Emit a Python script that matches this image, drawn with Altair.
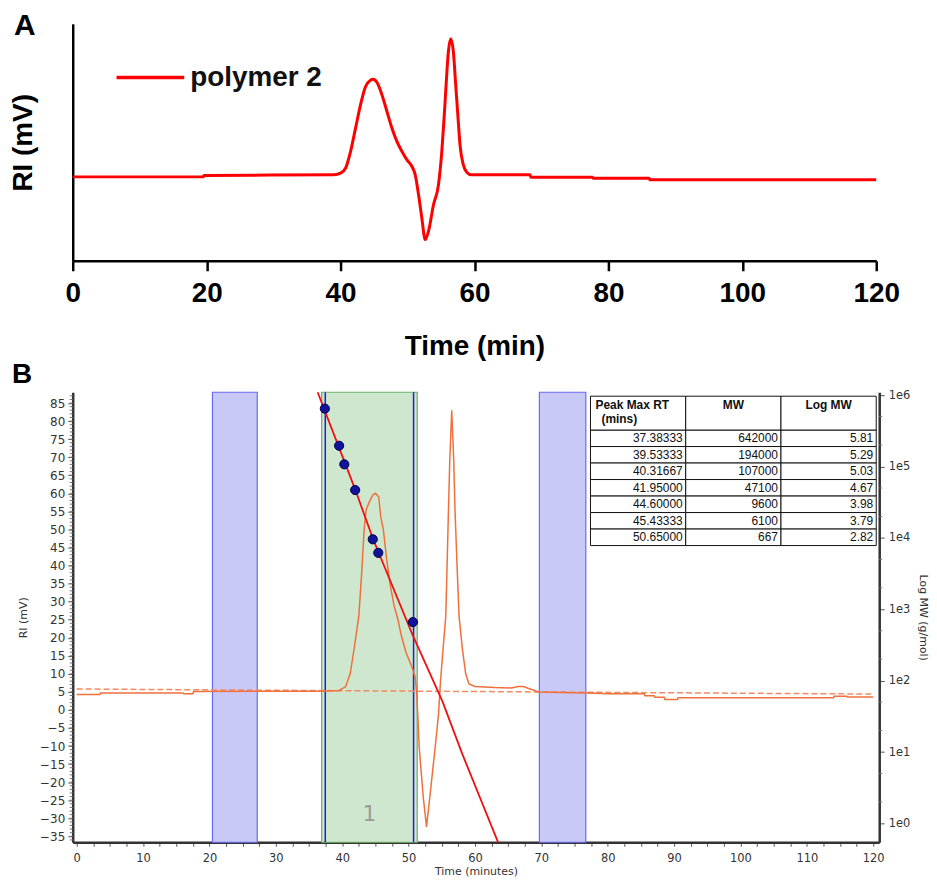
import altair as alt
import pandas as pd

FA = "Liberation Sans"
FB = "DejaVu Sans"

# ---------------- Panel A data (RI trace, mV) ----------------
a_time = [0, 19.5, 19.6, 39.0, 40.0, 40.74, 41.49, 42.23, 42.97, 43.72, 44.46, 44.86, 45.45,
          46.2, 46.94, 47.69, 48.43, 49.17, 49.92, 50.66, 51.15, 51.65, 52.14, 52.64, 53.13,
          53.88, 54.62, 55.12, 55.46, 55.76, 56.1, 56.46, 56.85, 57.2, 57.55, 57.84, 58.34,
          58.84, 59.58, 68.3, 68.4, 77.6, 77.7, 86.1, 86.2, 120]
a_ri = [5.17, 5.17, 5.95, 6.4, 7.24, 10.0, 19.4, 32.4, 45.5, 55.8, 59.5, 60.0, 58.2,
        51.1, 41.8, 32.4, 25.0, 19.4, 14.7, 11.0, 6.3, -4.9, -18.0, -30.1, -25.4,
        -10.5, 0.7, 19.4, 38.0, 56.7, 75.4, 82.8, 75.4, 56.7, 38.0, 23.1, 11.9,
        7.8, 6.3, 6.3, 5.0, 5.0, 4.44, 4.44, 3.49, 3.49]

# ---------------- Panel B data ----------------
b_time = [0, 3.5, 3.6, 16.0, 16.1, 17.5, 17.6, 37.0, 39.5, 40.5, 41.2, 41.8, 42.5, 42.9, 43.3,
          43.6, 44.1, 44.6, 45.0, 45.5, 45.8, 46.2, 46.7, 47.2, 47.8, 48.4, 48.9, 49.6, 50.6,
          51.0, 51.2, 51.4, 51.6, 52.2, 52.7, 53.3, 54.0, 54.5, 54.8, 55.2, 55.6, 55.8, 56.0,
          56.2, 56.5, 56.8, 57.0, 57.3, 57.6, 58.1, 58.6, 59.1, 60.0, 63.0, 65.5, 66.5, 67.3,
          68.0, 69.6, 78.0, 80.0, 85.5, 85.6, 87.0, 87.1, 88.5, 88.6, 90.5, 90.6, 114.0,
          114.1, 116.0, 116.1, 120.0]
b_ri = [4.3, 4.3, 4.7, 4.7, 4.5, 4.5, 5.1, 5.2, 5.4, 6.4, 10.0, 17.0, 26.0, 37.0, 49.9,
        55.4, 57.7, 59.5, 60.0, 59.0, 53.6, 49.9, 41.7, 35.0, 29.0, 25.0, 20.6, 16.0, 11.4,
        9.0, 5.0, -2.0, -10.4, -24.0, -32.4, -22.4, -10.4, -1.4, 7.8, 17.0, 26.0, 40.0, 55.0,
        69.0, 83.0, 69.0, 55.0, 40.0, 26.0, 17.0, 10.0, 7.2, 6.5, 6.2, 6.1, 6.5, 6.5,
        6.0, 5.0, 4.6, 4.5, 4.5, 3.9, 3.9, 3.5, 3.5, 2.9, 2.9, 3.4, 3.4,
        3.8, 3.8, 3.6, 3.6]

base_time = [0, 120]
base_ri = [5.8, 4.4]

excl_start = [20.45, 69.7]
excl_end = [27.2, 76.7]
slice_start = [36.9]
slice_end = [51.3]
limit_times = [37.45, 50.75]

cal_time = [36.3, 41.95, 44.66, 50.6, 55.1, 58.1, 63.5]
cal_logmw = [6.04, 4.68, 3.98, 2.64, 1.71, 0.97, -0.27]

peak_rt = [37.38333, 39.53333, 40.31667, 41.95, 44.6, 45.43333, 50.65]
peak_mw = [642000, 194000, 107000, 47100, 9600, 6100, 667]
peak_logmw = [5.81, 5.29, 5.03, 4.67, 3.98, 3.79, 2.82]

table_headers = ["Peak Max RT", "(mins)", "MW", "Log MW"]

x_ticks_b = [v / 2 for v in range(0, 241, 5)]
y_ticks_b = list(range(-35, 86, 5))
y_minor_b = list(range(-36, 88))
log_ticks = [0, 1, 2, 3, 4, 5, 6]
log_minor = [d + m for d in range(0, 6) for m in (0.30103, 0.69897)]

# ---------------- Panel A ----------------
dfA = pd.DataFrame({"t": a_time, "ri": a_ri, "series": "polymer 2"})

axA_x = alt.Axis(title="Time (min)", values=[0, 20, 40, 60, 80, 100, 120], grid=False,
                 labelFont=FA, labelFontSize=28, labelFontWeight="bold", labelColor="black",
                 labelPadding=9, labelFlush=False, tickColor="black", tickWidth=2.5, tickSize=10,
                 domainColor="black", domainWidth=2.5, titleFont=FA, titleFontSize=28,
                 titleFontWeight="bold", titleColor="black", titlePadding=25)
axA_y = alt.Axis(title="RI (mV)", labels=False, ticks=False, grid=False, domainColor="black",
                 domainWidth=2.5, titleFont=FA, titleFontSize=28, titleFontWeight="bold",
                 titleColor="black", titlePadding=35)

chartA = alt.Chart(dfA).mark_line(strokeWidth=3, interpolate="monotone").encode(
    x=alt.X("t:Q", scale=alt.Scale(domain=[0, 120], nice=False), axis=axA_x),
    y=alt.Y("ri:Q", scale=alt.Scale(domain=[-42.0, 91.2], nice=False, zero=False), axis=axA_y),
    color=alt.Color("series:N", scale=alt.Scale(domain=["polymer 2"], range=["#ff0000"]),
                    legend=alt.Legend(title=None, orient="none", legendX=42, legendY=18,
                                      symbolType="stroke", symbolSize=4624, symbolStrokeWidth=3.5,
                                      labelFont=FA, labelFontSize=28, labelFontWeight="bold",
                                      labelColor="#111", labelOffset=4, padding=0)),
).properties(
    width=807, height=238,
    title=alt.TitleParams("A", anchor="start", frame="group", dx=-59, offset=-17,
                          fontSize=30, fontWeight="bold", font=FA, color="black"),
)

# ---------------- Panel B ----------------
dfTrace = pd.DataFrame({"t": b_time, "ri": b_ri})
dfBase = pd.DataFrame({"t": base_time, "ri": base_ri})
dfExcl = pd.DataFrame({"start": excl_start, "end": excl_end})
dfSlice = pd.DataFrame({"start": slice_start, "end": slice_end})
dfLim = pd.DataFrame({"t": limit_times})
dfCal = pd.DataFrame({"t": cal_time, "logmw": cal_logmw})
dfPk = pd.DataFrame({"t": peak_rt, "logmw": peak_logmw})
dfYMinor = pd.DataFrame({"v": y_minor_b})
dfLogMinor = pd.DataFrame({"v": log_minor})

W_B, H_B = 810, 452

xsB = alt.Scale(domain=[-0.6, 120.9], nice=False, zero=False)
ysB = alt.Scale(domain=[-36.65, 88.0], nice=False, zero=False)
lsB = alt.Scale(domain=[-0.264, 6.04], nice=False, zero=False)

common_b = dict(grid=False, labelFont=FB, labelColor="#333",
                tickColor="#555", domainColor="#333", domainWidth=2.5,
                titleFont=FB, titleFontSize=11, titleFontWeight="normal", titleColor="#333")

axB_x = alt.Axis(title="Time (minutes)", values=x_ticks_b,
                 labelExpr="datum.value % 10 === 0 ? datum.label : ''",
                 labelOverlap=False, labelFlush=False, labelPadding=6, tickSize=4,
                 labelFontSize=11.5, titlePadding=2, **common_b)
axB_y = alt.Axis(title="RI (mV)", values=y_ticks_b, labelOverlap=False, labelPadding=3,
                 labelFontSize=12, tickSize=5, titlePadding=11, **common_b)
axB_log = alt.Axis(title="Log MW (g/mol)", orient="right", values=log_ticks,
                   labelExpr="'1e' + datum.value", labelOverlap=False, labelPadding=4,
                   labelFontSize=11.5, tickSize=5, titlePadding=8, **common_b)

excl = alt.Chart(dfExcl).mark_rect(fill="#c9c9f7", stroke="#6a6af2", strokeWidth=1.2).encode(
    x=alt.X("start:Q", scale=xsB, axis=axB_x), x2="end:Q")
slc = alt.Chart(dfSlice).mark_rect(fill="#cfe7cf", stroke="#6cb06c", strokeWidth=1.2).encode(
    x=alt.X("start:Q", scale=xsB, axis=axB_x), x2="end:Q")
lims = alt.Chart(dfLim).mark_rule(color="#2020d0", strokeWidth=1.5).encode(
    x=alt.X("t:Q", scale=xsB, axis=axB_x))
base = alt.Chart(dfBase).mark_line(color="#f28a62", strokeWidth=1.5, strokeDash=[6, 3]).encode(
    x=alt.X("t:Q", scale=xsB, axis=axB_x), y=alt.Y("ri:Q", scale=ysB, axis=axB_y))
trace = alt.Chart(dfTrace).mark_line(color="#f0703c", strokeWidth=1.5).encode(
    x=alt.X("t:Q", scale=xsB, axis=axB_x), y=alt.Y("ri:Q", scale=ysB, axis=axB_y))
one = alt.Chart(dfSlice).mark_text(text="1", font=FB, fontSize=22, color="#9a9a9a").encode(
    x=alt.XDatum(44.1, scale=xsB, axis=axB_x), y=alt.YDatum(-28.8, scale=ysB, axis=axB_y))
yminor = alt.Chart(dfYMinor).mark_rule(color="#777", strokeWidth=1).encode(
    y=alt.Y("v:Q", scale=ysB, axis=axB_y), x=alt.value(-3), x2=alt.value(0))

mv_group = alt.layer(excl, slc, lims, base, trace, one, yminor)

cal = alt.Chart(dfCal).mark_line(color="#ee1111", strokeWidth=1.8).encode(
    x=alt.X("t:Q", scale=xsB, axis=None), y=alt.Y("logmw:Q", scale=lsB, axis=axB_log))
dots = alt.Chart(dfPk).mark_point(filled=True, shape="circle", size=85, color="#12129a",
                                  stroke="#00004a", strokeWidth=1, opacity=1).encode(
    x=alt.X("t:Q", scale=xsB, axis=None), y=alt.Y("logmw:Q", scale=lsB, axis=axB_log))
lminor = alt.Chart(dfLogMinor).mark_rule(color="#777", strokeWidth=1).encode(
    y=alt.Y("v:Q", scale=lsB, axis=axB_log), x=alt.value(W_B), x2=alt.value(W_B + 3))
log_group = alt.layer(cal, dots, lminor)

# table built from the peak arrays
HEADER_H = 2.05
cells = []
for i in range(len(peak_rt)):
    for j in range(3):
        cells.append({"c0": j, "c1": j + 1, "r0": HEADER_H + i, "r1": HEADER_H + i + 1})
for j in range(3):
    cells.append({"c0": j, "c1": j + 1, "r0": 0, "r1": HEADER_H})
dfCells = pd.DataFrame(cells)

body = []
for i in range(len(peak_rt)):
    vals = [f"{peak_rt[i]:.5f}", f"{peak_mw[i]}", f"{peak_logmw[i]:.2f}"]
    for j, s in enumerate(vals):
        body.append({"cx": j + 1, "cy": HEADER_H + i + 0.5, "txt": s})
dfBody = pd.DataFrame(body)
dfHead1 = pd.DataFrame({"cx": [0], "cy": [0.56], "txt": table_headers[:1]})
dfHead2 = pd.DataFrame({"cx": [0], "cy": [1.40], "txt": table_headers[1:2]})
dfHeadC = pd.DataFrame({"cx": [1.5, 2.5], "cy": [0.56, 0.56], "txt": table_headers[2:]})

tx = alt.Scale(domain=[0, 3], range=[520, 807])
ty = alt.Scale(domain=[0, HEADER_H + 7], range=[4, 154])

tcells = alt.Chart(dfCells).mark_rect(fill="white", stroke="#111", strokeWidth=1).encode(
    x=alt.X("c0:Q", scale=tx, axis=None), x2="c1:Q",
    y=alt.Y("r0:Q", scale=ty, axis=None), y2="r1:Q")
tbody = alt.Chart(dfBody).mark_text(align="right", baseline="middle", dx=-3, font=FA,
                                    fontSize=12, color="#111").encode(
    x=alt.X("cx:Q", scale=tx, axis=None), y=alt.Y("cy:Q", scale=ty, axis=None), text="txt:N")
thead1 = alt.Chart(dfHead1).mark_text(align="left", baseline="middle", dx=5, font=FA,
                                      fontSize=12, fontWeight="bold", color="#111").encode(
    x=alt.X("cx:Q", scale=tx, axis=None), y=alt.Y("cy:Q", scale=ty, axis=None), text="txt:N")
thead2 = alt.Chart(dfHead2).mark_text(align="left", baseline="middle", dx=11, font=FA,
                                      fontSize=12, fontWeight="bold", color="#111").encode(
    x=alt.X("cx:Q", scale=tx, axis=None), y=alt.Y("cy:Q", scale=ty, axis=None), text="txt:N")
thead3 = alt.Chart(dfHeadC).mark_text(align="center", baseline="middle", font=FA,
                                      fontSize=12, fontWeight="bold", color="#111").encode(
    x=alt.X("cx:Q", scale=tx, axis=None), y=alt.Y("cy:Q", scale=ty, axis=None), text="txt:N")
table_group = alt.layer(tcells, tbody, thead1, thead2, thead3)

chartB = alt.layer(mv_group, log_group, table_group).resolve_scale(
    x="independent", y="independent"
).properties(
    width=W_B, height=H_B,
    title=alt.TitleParams("B", anchor="start", frame="group", dx=-61, offset=0,
                          fontSize=28, fontWeight="bold", font=FA, color="black"),
)

chart = alt.vconcat(chartA, chartB, spacing=0).properties(
    padding={"left": 2, "top": 1, "right": 0, "bottom": 0}
).configure_view(stroke=None)

chart.save("out.html", embed_options={"renderer": "svg", "actions": False})
